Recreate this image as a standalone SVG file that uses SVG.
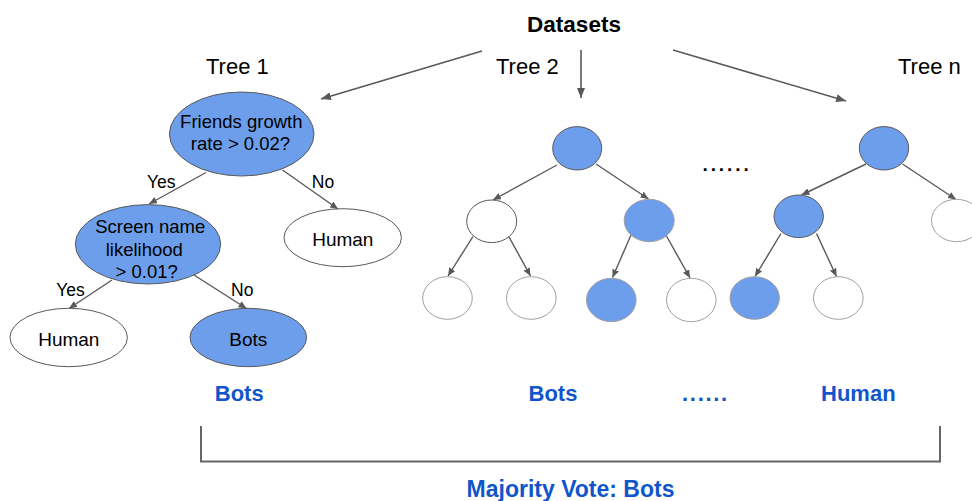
<svg xmlns="http://www.w3.org/2000/svg" width="972" height="501" viewBox="0 0 972 501">
<defs>
<marker id="ah" markerUnits="userSpaceOnUse" markerWidth="10" markerHeight="8" refX="10" refY="4" orient="auto"><path d="M0,0 L10,4 L0,8 z" fill="#595959"/></marker>
<marker id="as" markerUnits="userSpaceOnUse" markerWidth="8" markerHeight="7" refX="8" refY="3.5" orient="auto"><path d="M0,0 L8,3.5 L0,7 z" fill="#595959"/></marker>
</defs>
<style>
text{font-family:"Liberation Sans",Arial,sans-serif;fill:#000}
.lbl{font-size:22px}
.nt{font-size:18.5px;text-anchor:middle}
.yn{font-size:17.5px;text-anchor:middle}
.res{font-size:22px;font-weight:bold;fill:#1155cc;text-anchor:middle}
.blue{fill:#6d9eeb;stroke:#595959;stroke-width:1}
.bluel{fill:#6d9eeb;stroke:#a0a0a0;stroke-width:1}
.white{fill:#fff;stroke:#595959;stroke-width:1}
.whitel{fill:#fff;stroke:#a0a0a0;stroke-width:1}
.big{stroke:#595959;stroke-width:1.6;fill:none;marker-end:url(#ah)}
.e{stroke:#595959;stroke-width:1.4;fill:none;marker-end:url(#as)}
</style>
<rect width="972" height="501" fill="#fff"/>

<g id="titles">
<text x="574" y="32" style="font-size:22.5px;font-weight:bold" text-anchor="middle">Datasets</text>
<text class="lbl" x="206" y="74">Tree 1</text>
<text class="lbl" x="496" y="74">Tree 2</text>
<text class="lbl" x="898" y="74">Tree n</text>
<text x="702.5" y="171" style="font-size:19px;font-weight:bold;letter-spacing:2.9px">......</text>
</g>

<g id="connectors">
<line class="big" x1="482" y1="51" x2="321" y2="99"/>
<line class="big" x1="581" y1="50" x2="581" y2="98"/>
<line class="big" x1="673" y1="50" x2="846" y2="101"/>
<!-- tree 1 -->
<line class="e" x1="206" y1="172.5" x2="149" y2="204"/>
<line class="e" x1="282.5" y1="170" x2="338" y2="209"/>
<line class="e" x1="112" y1="280" x2="69" y2="308.5"/>
<line class="e" x1="194" y1="275" x2="246.5" y2="308.5"/>
<!-- tree 2 -->
<line class="e" x1="557" y1="165" x2="493" y2="200"/>
<line class="e" x1="596" y1="164" x2="648.5" y2="199"/>
<line class="e" x1="473" y1="236.5" x2="448" y2="276"/>
<line class="e" x1="508.5" y1="236" x2="530.5" y2="276"/>
<line class="e" x1="631" y1="235" x2="612.5" y2="277.5"/>
<line class="e" x1="666.5" y1="236" x2="690" y2="278"/>
<!-- tree n -->
<line class="e" x1="866" y1="164" x2="801.5" y2="195"/>
<line class="e" x1="902.5" y1="164" x2="956" y2="199.5"/>
<line class="e" x1="781" y1="233.5" x2="755" y2="276.5"/>
<line class="e" x1="816.5" y1="233.5" x2="836.5" y2="276.5"/>
</g>

<g id="t1-root"><ellipse class="blue" cx="241.7" cy="134" rx="72.3" ry="42"/>
<text class="nt" x="241.3" y="128.3">Friends growth</text>
<text class="nt" x="240.5" y="150">rate &gt; 0.02?</text></g>
<g id="t1-screen"><ellipse class="blue" cx="148" cy="244.3" rx="72.7" ry="39.7"/>
<text class="nt" x="150.3" y="233.3">Screen name</text>
<text class="nt" x="144.3" y="255.7">likelihood</text>
<text class="nt" x="146.7" y="277.7">&gt; 0.01?</text></g>
<g id="t1-human-r"><ellipse class="white" cx="342.7" cy="237.7" rx="58.7" ry="29"/>
<text class="nt" x="342.8" y="246" style="font-size:19px">Human</text></g>
<g id="t1-human-l"><ellipse class="white" cx="68.7" cy="337.5" rx="58.7" ry="29.2"/>
<text class="nt" x="68.8" y="345.7" style="font-size:19px">Human</text></g>
<g id="t1-bots"><ellipse class="blue" cx="248.3" cy="337.5" rx="58.3" ry="29.2"/>
<text class="nt" x="248.3" y="345.7" style="font-size:19px">Bots</text></g>

<g id="t1-labels">
<text class="yn" x="161.3" y="188.3">Yes</text>
<text class="yn" x="323" y="188.3">No</text>
<text class="yn" x="70.5" y="296">Yes</text>
<text class="yn" x="242.2" y="296">No</text>
</g>

<g id="t2-root"><ellipse class="blue" cx="577.2" cy="148.3" rx="24.5" ry="21.7"/></g>
<g id="t2-l"><ellipse class="white" cx="491.7" cy="221.3" rx="25" ry="21.3"/></g>
<g id="t2-r"><ellipse class="bluel" cx="649.2" cy="220.5" rx="25" ry="21.2"/></g>
<g id="t2-ll"><ellipse class="whitel" cx="447.5" cy="298" rx="24.8" ry="21.3"/></g>
<g id="t2-lr"><ellipse class="whitel" cx="531.3" cy="298" rx="24.8" ry="21.3"/></g>
<g id="t2-rl"><ellipse class="bluel" cx="611.3" cy="300" rx="24.8" ry="21.7"/></g>
<g id="t2-rr"><ellipse class="whitel" cx="691.3" cy="300" rx="24.8" ry="21.7"/></g>

<g id="tn-root"><ellipse class="blue" cx="884" cy="148.3" rx="24.7" ry="21.7"/></g>
<g id="tn-l"><ellipse class="blue" cx="798.7" cy="216.3" rx="24.7" ry="21.3"/></g>
<g id="tn-r"><ellipse class="whitel" cx="956.5" cy="220.5" rx="25" ry="21.2"/></g>
<g id="tn-ll"><ellipse class="bluel" cx="754.7" cy="298" rx="24.7" ry="21.3"/></g>
<g id="tn-lr"><ellipse class="whitel" cx="838.3" cy="298" rx="24.8" ry="21.3"/></g>

<g id="results">
<text class="res" x="239.2" y="400.7">Bots</text>
<text class="res" x="553" y="400.7">Bots</text>
<text class="res" x="705.5" y="400.7" style="letter-spacing:1.7px">......</text>
<text class="res" x="858.3" y="400.7">Human</text>
</g>

<g id="bracket">
<path d="M201,426 V461.5 H940 V426" fill="none" stroke="#666" stroke-width="2"/>
</g>

<g id="majority">
<text class="res" x="570.5" y="497" style="font-size:23px">Majority Vote: Bots</text>
</g>
</svg>
